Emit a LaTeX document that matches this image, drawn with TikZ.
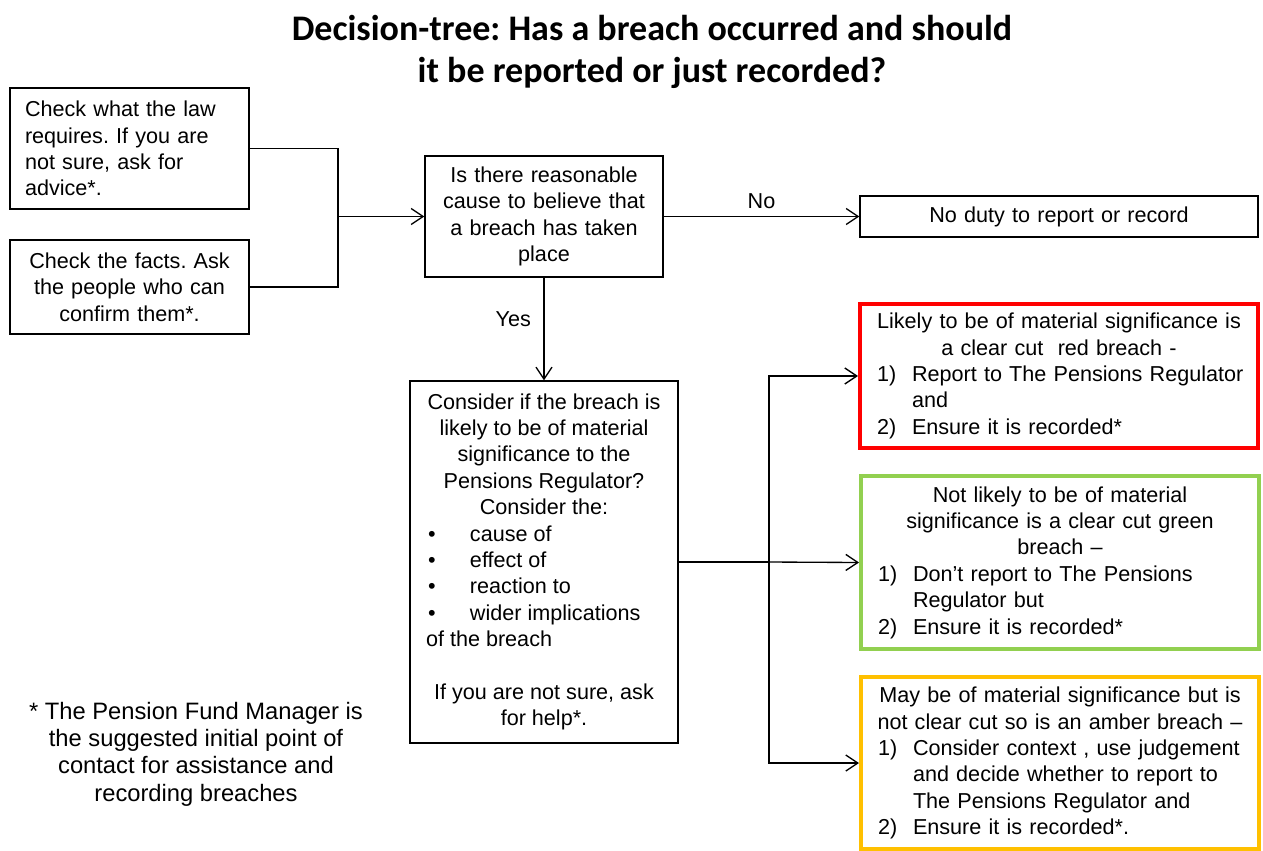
\documentclass[tikz,border=0pt]{standalone}
\usepackage{fontspec}
\setmainfont{Liberation Sans}
\newfontfamily\titlefont{Carlito}
\usetikzlibrary{arrows.meta}
\definecolor{breachred}{HTML}{FF0000}
\definecolor{breachgreen}{HTML}{92D050}
\definecolor{breachamber}{HTML}{FFC000}
\newcommand\itm[2]{\par\noindent\hangindent=34.75pt\hangafter=1\makebox[34.75pt][l]{\hspace{8.5pt}#1}#2}
\newcommand\blt[1]{\par\noindent\makebox[36pt][l]{\hspace{4.5pt}•}#1}
\frenchspacing
\tikzset{
    box/.style={draw, line width=1pt, inner sep=0pt, align=center},
    flag/.style={draw=#1, line width=3pt, inner sep=0pt, minimum width=298.5pt, text width=290pt},
    link/.style={line width=1pt},
    arr/.style={link, -{Straight Barb[length=9pt,width=12pt]}}
}
\begin{document}
\begin{tikzpicture}[x=0.75pt, y=-0.75pt, every node/.style={font=\fontsize{16.2}{19.8}\selectfont}]
    \useasboundingbox (0,0) rectangle (1263,850);
    \node[align=center, font=\titlefont\bfseries\fontsize{27}{32}\selectfont] (title) at (652,52)
        {Decision-tree: Has a breach occurred and should\\ it be reported or just recorded?};
    \node[box, minimum width=179.25pt, minimum height=90.75pt, text width=156.75pt, align=left] (law) at (129.5,148.5)
        {Check what the law\\ requires. If you are\\ not sure, ask for\\ advice*.};
    \node[box, minimum width=179.25pt, minimum height=70.5pt, text width=156.75pt] (facts) at (129.5,287)
        {Check the facts. Ask\\ the people who can\\ confirm them*.};
    \node[box, minimum width=178.5pt, minimum height=90.75pt, text width=170pt] (q) at (544,216.5)
        {Is there reasonable\\ cause to believe that\\ a breach has taken\\ place};
    \node[box, minimum width=298.5pt, minimum height=30.75pt, text width=290pt] (nod) at (1059,216.5)
        {No duty to report or record};
    \node[box, minimum width=201pt, minimum height=271.5pt, text width=183pt, align=none] (cons) at (544,562)
        {\centering Consider if the breach is\\ likely to be of material\\ significance to the\\ Pensions Regulator?\\ Consider the:\par
        \raggedright\blt{cause of}\blt{effect of}\blt{reaction to}\blt{wider implications}
        \par\noindent\hspace{3pt}of the breach\par\vspace{19.8pt}
        \centering If you are not sure, ask\\ for help*.\par};
    \node[flag=breachred, minimum height=108pt] (red) at (1059,376)
        {\centering Likely to be of material significance is\\ a clear cut\ \ red breach -\par
        \raggedright\itm{1)}{Report to The Pensions Regulator\newline and}\itm{2)}{Ensure it is recorded*}\par};
    \node[flag=breachgreen, minimum height=129.75pt] (green) at (1060,562.5)
        {\centering Not likely to be of material\\ significance is a clear cut green\\ breach –\par
        \raggedright\itm{1)}{Don’t report to The Pensions\newline Regulator but}\itm{2)}{Ensure it is recorded*}\par};
    \node[flag=breachamber, minimum height=129pt] (amber) at (1060,763)
        {\centering May be of material significance but is\\ not clear cut so is an amber breach –\par
        \raggedright\itm{1)}{Consider context , use judgement\newline and decide whether to report to\newline The Pensions Regulator and}\itm{2)}{Ensure it is recorded*.}\par};
    \node[align=center, font=\fontsize{17.8}{20.5}\selectfont] (note) at (196,754)
        {* The Pension Fund Manager is\\ the suggested initial point of\\ contact for assistance and\\ recording breaches};
    \coordinate (j1) at (338,216.5);
    \coordinate (j2) at (769,562);
    \draw[link] (law.east) -| (j1);
    \draw[link] (facts.east) -| (j1);
    \draw[arr] (j1) -- (q.west);
    \draw[arr] (q.east) -- node[above=2pt]{No} (nod.west);
    \draw[arr] (q.south) -- node[left=6pt, pos=0.4]{Yes} (cons.north);
    \draw[link] (cons.east) -- (j2);
    \draw[arr] (j2) |- (red.west);
    \draw[arr] (j2) -- (green.west);
    \draw[arr] (j2) |- (amber.west);
\end{tikzpicture}
\end{document}
